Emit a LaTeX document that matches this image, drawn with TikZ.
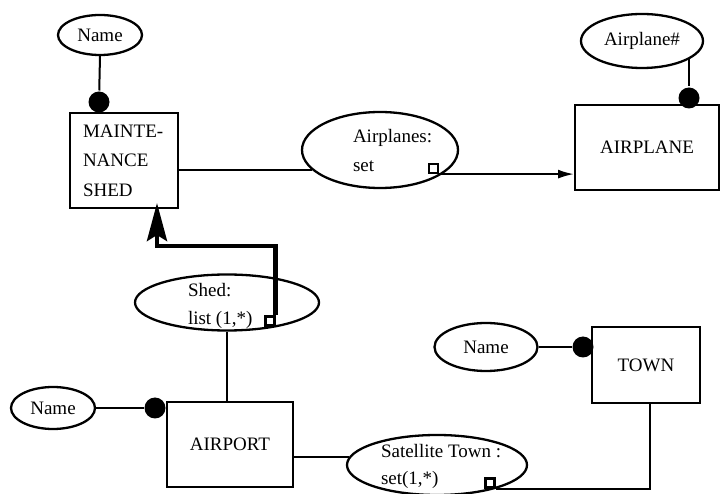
\documentclass[tikz,border=0pt]{standalone}
\usepackage{fontspec}
\setmainfont{Liberation Serif}
\usetikzlibrary{shapes.geometric,arrows.meta}
\begin{document}
\begin{tikzpicture}[x=1pt,y=-1pt,
  line width=2pt,
  lbl/.style={font=\fontsize{19}{22}\selectfont, inner sep=0pt},
  ent/.style={draw, rectangle, inner sep=0pt, line width=2pt, font=\fontsize{19}{22}\selectfont},
  attr/.style={draw, ellipse, inner sep=0pt, line width=2.3pt, font=\fontsize{19}{22}\selectfont},
  keydot/.style={circle, fill, inner sep=0pt, minimum size=21pt},
  ownsq/.style={draw, rectangle, inner sep=0pt, minimum size=9pt, line width=2.2pt, fill=white},
  thinarrow/.style={-{Latex[length=16pt,width=9pt]}},
  thickarrow/.style={line width=4.5pt, line join=miter, -{Stealth[length=38pt,width=20pt,inset=6pt]}}
]
\fill[white] (0,0) rectangle (721,494);
\useasboundingbox (0,0) rectangle (721,494);

% Maintenance shed
\node[attr, minimum width=84pt, minimum height=40pt] (msname) at (100,35) {Name};
\node[ent, minimum width=108pt, minimum height=95pt] (mshed) at (124,160.5) {};
\node[lbl, anchor=base west] (mst1) at (82,138) {MAINTE-};
\node[lbl, anchor=base west] (mst2) at (82,167) {NANCE};
\node[lbl, anchor=base west] (mst3) at (82,197) {SHED};
\node[keydot] (msdot) at (99,102) {};
\draw (msname.south) -- (msdot);

% Airplanes relationship
\node[attr, minimum width=156pt, minimum height=76pt] (aprel) at (380,150) {};
\node[lbl, anchor=base west] (aprt1) at (352,143) {Airplanes:};
\node[lbl, anchor=base west] (aprt2) at (352,172) {set};
\coordinate (apin) at (aprel.196.8);
\draw (mshed.east |- apin) -- (apin);

% Airplane
\node[ent, minimum width=144pt, minimum height=85pt] (airplane) at (647,147.5) {AIRPLANE};
\node[attr, minimum width=122pt, minimum height=54pt] (apno) at (642,41) {Airplane\#};
\node[keydot] (apdot) at (689,98) {};
\draw (apdot |- apno.340) -- (apdot);
\node[ownsq] (apsq) at (433.5,168.5) {};
\draw[thinarrow] (apsq.south east) -- (apsq.south east -| airplane.west);

% Shed relationship
\node[attr, minimum width=184pt, minimum height=56pt] (shed) at (227,302.5) {};
\node[lbl, anchor=base west] (sht1) at (187,297) {Shed:};
\node[lbl, anchor=base west] (sht2) at (187,325) {list (1,*)};
\node[ownsq] (shsq) at (270,321) {};
\draw[thickarrow] (shsq.north east) -- ++(0,-69.5) -| ([xshift=33pt,yshift=6pt]mshed.south);

% Airport
\node[ent, minimum width=126pt, minimum height=85pt] (airport) at (230,444.5) {AIRPORT};
\draw (shed.south) -- (shed.south |- airport.north);
\node[attr, minimum width=84pt, minimum height=42pt] (aname) at (53,408) {Name};
\node[keydot] (adot) at (155,408) {};
\draw (aname.east) -- (adot);

% Satellite Town relationship
\node[attr, minimum width=180pt, minimum height=60pt] (sat) at (437,465) {};
\node[lbl, anchor=base west] (satt1) at (380,457) {Satellite Town :};
\node[lbl, anchor=base west] (satt2) at (380,485) {set(1,*)};
\coordinate (satin) at (sat.175.4);
\draw (airport.east |- satin) -- (satin);

% Town
\node[ent, minimum width=108pt, minimum height=76pt] (town) at (646,365) {TOWN};
\node[attr, minimum width=103pt, minimum height=48pt] (tname) at (486,347) {Name};
\node[keydot] (tdot) at (583,347) {};
\draw (tname.east) -- (tdot);
\node[ownsq] (satsq) at (490,483) {};
\draw (satsq.south east) -| ([xshift=4pt]town.south);
\end{tikzpicture}
\end{document}
